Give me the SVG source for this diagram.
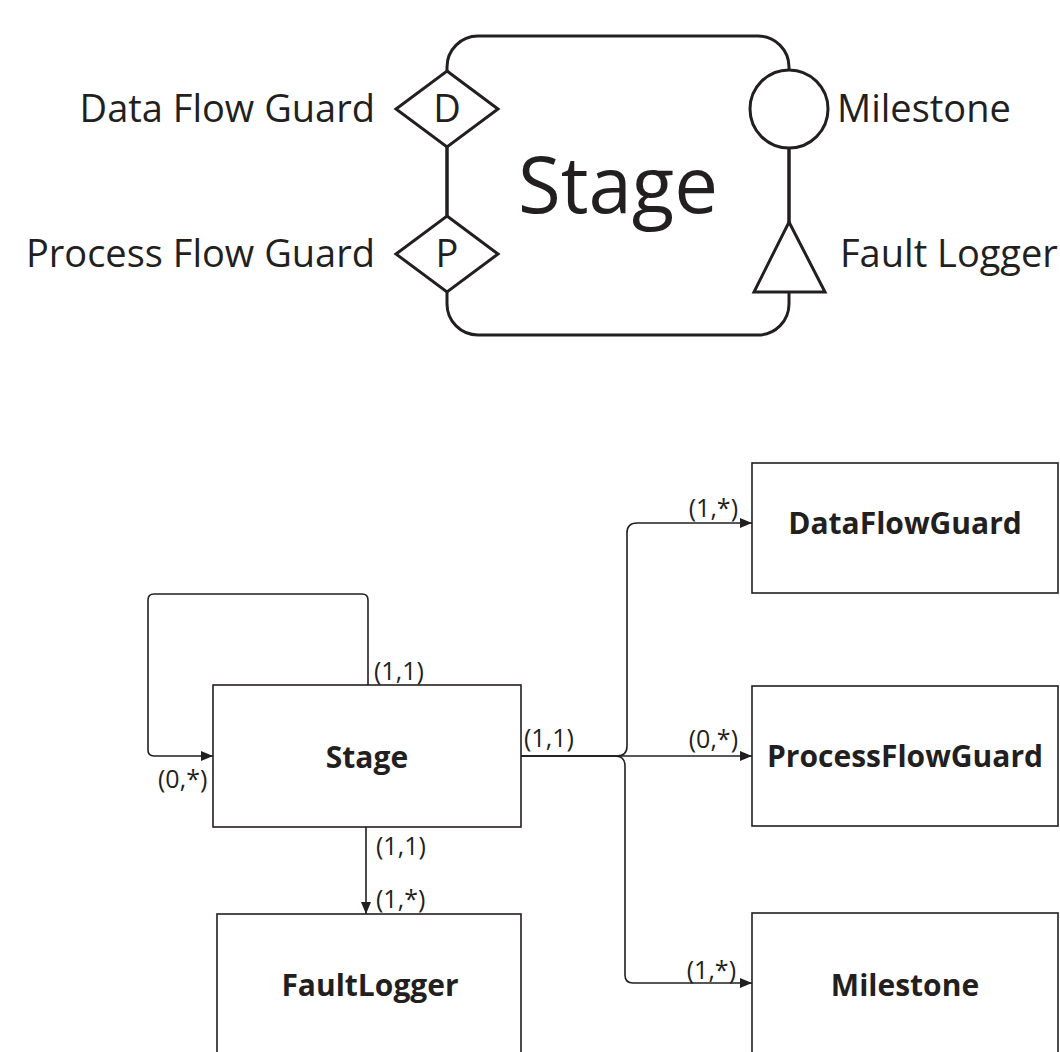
<svg xmlns="http://www.w3.org/2000/svg" width="1060" height="1052" viewBox="0 0 1060 1052">
<defs>
<style>
.t{font-family:"Open Sans","Noto Sans","Liberation Sans",sans-serif;fill:#231f20}
.big{font-size:38px}
.bold{font-size:30px;font-weight:bold}
.lab{font-size:25px}
.sym{fill:#fff;stroke:#231f20;stroke-width:3}
.box{fill:#fff;stroke:#231f20;stroke-width:1.6}
.con{fill:none;stroke:#231f20;stroke-width:1.6}
</style>
<marker id="ah" viewBox="0 0 12 10" refX="12" refY="5" markerWidth="12" markerHeight="10" markerUnits="userSpaceOnUse" orient="auto">
<path d="M0,0 L12,5 L0,10 Z" fill="#231f20"/>
</marker>
</defs>
<rect width="1060" height="1052" fill="#fff"/>

<g id="legend">
<rect x="447" y="36" width="342" height="299" rx="31" ry="31" class="sym"/>
<line x1="447" y1="147" x2="447" y2="216" stroke="#231f20" stroke-width="3"/>
<line x1="789" y1="148" x2="789" y2="222" stroke="#231f20" stroke-width="3"/>
<g id="legend-dataflowguard">
<polygon points="447,71 498,109 447,147 396,109" class="sym"/>
<text x="447" y="122" class="t big" text-anchor="middle">D</text>
<text x="375" y="122" class="t big" text-anchor="end">Data Flow Guard</text>
</g>
<g id="legend-processflowguard">
<polygon points="447,216 498,254 447,292 396,254" class="sym"/>
<text x="447" y="267" class="t big" text-anchor="middle">P</text>
<text x="375" y="267" class="t big" text-anchor="end">Process Flow Guard</text>
</g>
<g id="legend-milestone">
<circle cx="789" cy="109" r="39" class="sym"/>
<text x="837" y="122" class="t big">Milestone</text>
</g>
<g id="legend-faultlogger">
<polygon points="789,222 825,292 754,292" class="sym"/>
<text x="840" y="267" class="t big">Fault Logger</text>
</g>
<text x="618" y="213" class="t" font-size="78" text-anchor="middle">Stage</text>
</g>

<g id="connectors">
<path class="con" d="M368,685 V600 Q368,594 362,594 H154 Q148,594 148,600 V750 Q148,756 154,756 H213" marker-end="url(#ah)"/>
<path class="con" d="M366,827 V914" marker-end="url(#ah)"/>
<path class="con" d="M521,756 H617 Q627,756 627,746 V533 Q627,523 637,523 H752" marker-end="url(#ah)"/>
<path class="con" d="M521,756 H752" marker-end="url(#ah)"/>
<path class="con" d="M521,756 H615 Q625,756 625,766 V975 Q625,983 633,983 H752" marker-end="url(#ah)"/>
<text x="374" y="680" class="t lab">(1,1)</text>
<text x="158" y="788" class="t lab">(0,*)</text>
<text x="376" y="855" class="t lab">(1,1)</text>
<text x="376" y="908" class="t lab">(1,*)</text>
<text x="524" y="747" class="t lab">(1,1)</text>
<text x="738" y="517" class="t lab" text-anchor="end">(1,*)</text>
<text x="738" y="748" class="t lab" text-anchor="end">(0,*)</text>
<text x="736" y="979" class="t lab" text-anchor="end">(1,*)</text>
</g>

<g id="node-stage">
<rect x="213" y="685" width="308" height="142" class="box"/>
<text x="367" y="768" class="t bold" text-anchor="middle">Stage</text>
</g>
<g id="node-dataflowguard">
<rect x="752" y="463" width="306" height="130" class="box"/>
<text x="905" y="534" class="t bold" text-anchor="middle">DataFlowGuard</text>
</g>
<g id="node-processflowguard">
<rect x="752" y="686" width="306" height="140" class="box"/>
<text x="905" y="767" class="t bold" text-anchor="middle">ProcessFlowGuard</text>
</g>
<g id="node-faultlogger">
<rect x="217" y="914" width="304" height="160" class="box"/>
<text x="370" y="996" class="t bold" text-anchor="middle">FaultLogger</text>
</g>
<g id="node-milestone">
<rect x="752" y="913" width="306" height="160" class="box"/>
<text x="905" y="996" class="t bold" text-anchor="middle">Milestone</text>
</g>
</svg>
